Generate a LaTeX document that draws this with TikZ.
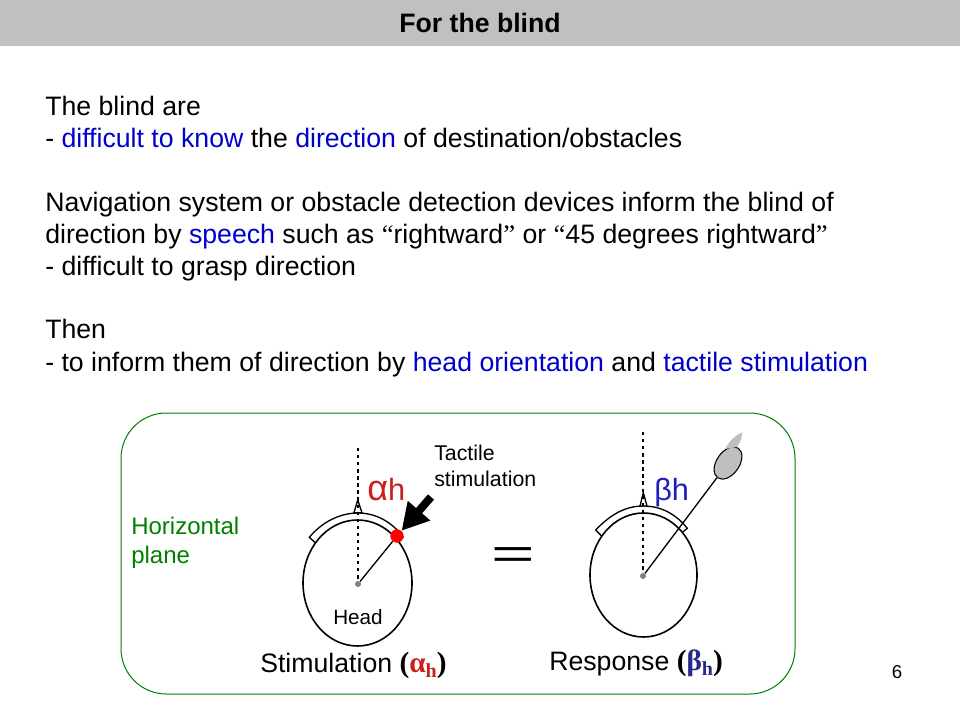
\documentclass[tikz,border=0pt]{standalone}
\usepackage{fontspec}
\setmainfont{Liberation Sans}
\newfontfamily\serifpart{Liberation Serif}
\usepackage{xcolor}
\usetikzlibrary{arrows.meta,shapes.geometric}
\definecolor{bargray}{RGB}{192,192,192}
\definecolor{linkblue}{RGB}{0,0,204}
\definecolor{planegreen}{RGB}{0,128,0}
\definecolor{alphared}{RGB}{204,30,30}
\definecolor{betablue}{RGB}{30,30,190}
\definecolor{subblue}{RGB}{40,40,140}
\newcommand{\hl}[1]{\textcolor{linkblue}{#1}}
\newcommand{\qt}[1]{{\serifpart #1}}
\newcommand{\subh}{\raisebox{-4pt}{\fontsize{15}{15}\selectfont h}}

\begin{document}
\begin{tikzpicture}[
    x=0.75pt, y=-0.75pt,
    textline/.style={anchor=base west, inner sep=0pt, font=\fontsize{20}{24}\selectfont},
    smalltext/.style={align=left, inner sep=0pt, anchor=north west, font=\fontsize{16}{19}\selectfont},
    head/.style={draw, line width=1.2pt, fill=white, ellipse, inner sep=0pt},
    band/.style={draw, line width=1pt, fill=white},
    pointer/.style={draw, line width=1pt, fill=white},
    guide/.style={dash pattern=on 2.5pt off 2.8pt, line width=1pt},
    hub/.style={circle, fill=gray, inner sep=0pt, minimum size=4.5pt},
    needle/.style={line width=1pt},
    angle/.style={anchor=base west, inner sep=0pt, font=\fontsize{23}{24}\selectfont},
    caption/.style={anchor=base west, inner sep=0pt, font=\fontsize{20}{24}\selectfont}
]
\useasboundingbox (0,0) rectangle (960,720);

% Title bar
\fill[bargray] (0,0) rectangle (960,46);
\node[inner sep=0pt, font=\bfseries\fontsize{20}{24}\selectfont] (title) at (480,23) {For the blind};

% Body text
\node[textline] (line1) at (45,115.5) {The blind are};
\node[textline] (line2) at (45,147.5) {- \hl{difficult to know} the \hl{direction} of destination/obstacles};
\node[textline] (line3) at (45,211.5) {Navigation system or obstacle detection devices inform the blind of};
\node[textline] (line4) at (45,243.5) {direction by \hl{speech} such as \qt{“}rightward\qt{”} or \qt{“}45 degrees rightward\qt{”}};
\node[textline] (line5) at (45,275.5) {- difficult to grasp direction};
\node[textline] (line6) at (45,339) {Then};
\node[textline] (line7) at (45,371) {- to inform them of direction by \hl{head orientation} and \hl{tactile stimulation}};

% Panel
\draw[planegreen, line width=0.75pt, rounded corners=34pt] (121,413) rectangle (795,694);
\node[inner sep=0pt, anchor=north west, align=left, text=planegreen, font=\fontsize{18}{22}\selectfont] (plane) at (131,517) {Horizontal\\plane};

% Stimulation head
\draw[band] (309.3,537.3) .. controls (322,522) and (340,513) .. (358,513) .. controls (376,513) and (392,522) .. (403,537) -- (397,542) -- (316.7,544) -- cycle;
\node[head, minimum width=81.75pt, minimum height=94.5pt] (head1) at (357.5,583) {};
\draw[pointer] (354,512.7) -- (357.7,500) -- (362,512.7) -- cycle;
\node[hub] (hub1) at (358,584) {};
\coordinate (top1) at (358,448);
\draw[guide] (top1) -- (hub1);
\node[circle, fill=red, inner sep=0pt, minimum size=10pt] (dot1) at (397,536) {};
\draw[needle] (hub1) -- (dot1);
\coordinate (tail1) at (431,497);
\draw[line width=6pt, -{Triangle[length=20pt, width=21pt]}] (tail1) -- (dot1);
\node[angle, text=alphared] (alpha1) at (367,500) {{\fontsize{27}{24}\selectfont α}h};
\node[smalltext] (tactile) at (434,445) {Tactile\\stimulation};
\node[anchor=base, inner sep=0pt, font=\fontsize{15.5}{19}\selectfont] (head) at (358,624) {Head};
\node[caption] (stim) at (260,672) {Stimulation {\serifpart\bfseries\fontsize{22}{24}\selectfont (\textcolor{alphared}{α\subh})}};

% Equals sign
\node[anchor=base, inner sep=0pt, xscale=1.75, font=\fontsize{32}{32}\selectfont] (equal) at (513.5,568.5) {=};

% Response head
\draw[band] (595.7,530) .. controls (610,515) and (625,506) .. (643,506) .. controls (660,506) and (675,513) .. (687.3,528.3) -- (681.7,533) -- (602,536.5) -- cycle;
\node[head, minimum width=80.25pt, minimum height=93pt] (head2) at (643.5,575) {};
\draw[pointer] (640,506) -- (643.3,492.7) -- (647,506) -- cycle;
\node[hub] (hub2) at (643,576) {};
\coordinate (top2) at (643,432);
\draw[guide] (top2) -- (hub2);
\node[draw, fill=gray!50, line width=0.8pt, ellipse, inner sep=0pt, minimum width=27pt, minimum height=17pt, rotate=55] (hand) at (728,463) {};
\draw[needle] (hub2) -- (hand);
\fill[gray!50] (725,449) .. controls (730,440) and (736,435) .. (742.3,432.3) .. controls (742,438) and (740,443) .. (737,447) -- cycle;
\node[angle, text=betablue] (beta2) at (654,500) {βh};
\node[caption] (resp) at (549,670) {Response {\serifpart\bfseries\fontsize{22}{24}\selectfont (\textcolor{subblue}{β\subh})}};

% Page number
\node[inner sep=0pt, font=\fontsize{14}{16}\selectfont] (page) at (897,672) {6};
\end{tikzpicture}
\end{document}
